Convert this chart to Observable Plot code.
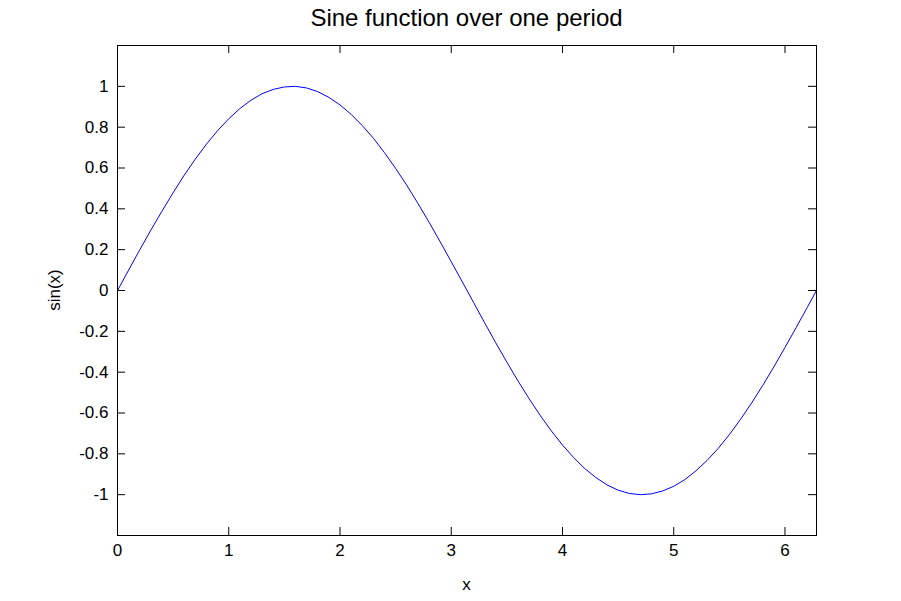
<!DOCTYPE html>
<html>
<head>
<meta charset="utf-8">
<script src="https://cdn.jsdelivr.net/npm/d3@7"></script>
<script src="https://cdn.jsdelivr.net/npm/@observablehq/plot@0.6"></script>
<style>
  html, body { margin: 0; padding: 0; background: #fff; }
  #title { width: 901px; height: 36px; box-sizing: border-box; padding-left: 32px; text-align: center;
           font-family: "Liberation Sans", Arial, sans-serif; font-size: 24px; line-height: 36px; color: #000; }
</style>
</head>
<body>
<div id="title">Sine function over one period</div>
<div id="chart"></div>
<script>
// x positions (radians) and sin(x) values
const xs = [0,0.1,0.2,0.3,0.4,0.5,0.6,0.7,0.8,0.9,1.0,1.1,1.2,1.3,1.4,1.5,1.6,1.7,1.8,1.9,2.0,2.1,2.2,2.3,2.4,2.5,2.6,2.7,2.8,2.9,3.0,3.1,3.2,3.3,3.4,3.5,3.6,3.7,3.8,3.9,4.0,4.1,4.2,4.3,4.4,4.5,4.6,4.7,4.8,4.9,5.0,5.1,5.2,5.3,5.4,5.5,5.6,5.7,5.8,5.9,6.0,6.1,6.2,6.283];
const ys = [0,0.100,0.199,0.296,0.389,0.479,0.565,0.644,0.717,0.783,0.841,0.891,0.932,0.964,0.985,0.997,1.000,0.992,0.974,0.946,0.909,0.863,0.808,0.746,0.675,0.598,0.516,0.427,0.335,0.239,0.141,0.042,-0.058,-0.158,-0.256,-0.351,-0.443,-0.530,-0.612,-0.688,-0.757,-0.818,-0.872,-0.916,-0.952,-0.978,-0.994,-1.000,-0.996,-0.982,-0.959,-0.926,-0.883,-0.832,-0.773,-0.706,-0.631,-0.551,-0.465,-0.374,-0.279,-0.182,-0.083,0.000];
const xTicks = [0,1,2,3,4,5,6];
const yTicks = [-1,-0.8,-0.6,-0.4,-0.2,0,0.2,0.4,0.6,0.8,1];
const xDomain = [0, 6.2832];
const yDomain = [-1.2, 1.2];

const data = xs.map((x, i) => ({x, y: ys[i]}));
const fmt = d => String(d);

const W = 901, H = 565, ML = 117, MR = 85, MT = 9, MB = 66, TL = 8;
const PW = W - ML - MR, PH = H - MT - MB;

const chart = Plot.plot({
  width: W,
  height: H,
  marginLeft: ML,
  marginRight: MR,
  marginTop: MT,
  marginBottom: MB,
  style: {fontFamily: "'Liberation Sans', Arial, sans-serif", fontSize: "17px", color: "#000", background: "#fff"},
  x: {domain: xDomain},
  y: {domain: yDomain},
  marks: [
    Plot.line(data, {x: "x", y: "y", stroke: "#0000ff", strokeWidth: 1}),
    Plot.frame({stroke: "#000", strokeWidth: 1}),
    // inward ticks on all four sides
    Plot.tickX(xTicks, {x: d => d, insetTop: PH - TL, stroke: "#000"}),
    Plot.tickX(xTicks, {x: d => d, insetBottom: PH - TL, stroke: "#000"}),
    Plot.tickY(yTicks, {y: d => d, insetRight: PW - TL, stroke: "#000"}),
    Plot.tickY(yTicks, {y: d => d, insetLeft: PW - TL, stroke: "#000"}),
    // labels
    Plot.axisX(xTicks, {anchor: "bottom", tickSize: 0, tickPadding: 8, tickFormat: fmt, label: null, fontSize: 17}),
    Plot.axisY(yTicks, {anchor: "left", tickSize: 0, tickPadding: 9, tickFormat: fmt, label: null, fontSize: 17})
  ]
});
document.getElementById("chart").appendChild(chart);
</script>
<div style="position:absolute; left:0; top:573px; width:901px; padding-left:32px; box-sizing:border-box; text-align:center; font-family:'Liberation Sans', Arial, sans-serif; font-size:17px; line-height:24px;">x</div>
<div style="position:absolute; left:55px; top:290px; transform: translate(-50%, -50%) rotate(-90deg); font-family:'Liberation Sans', Arial, sans-serif; font-size:17px; line-height:20px; white-space:nowrap;">sin(x)</div>
</body>
</html>
